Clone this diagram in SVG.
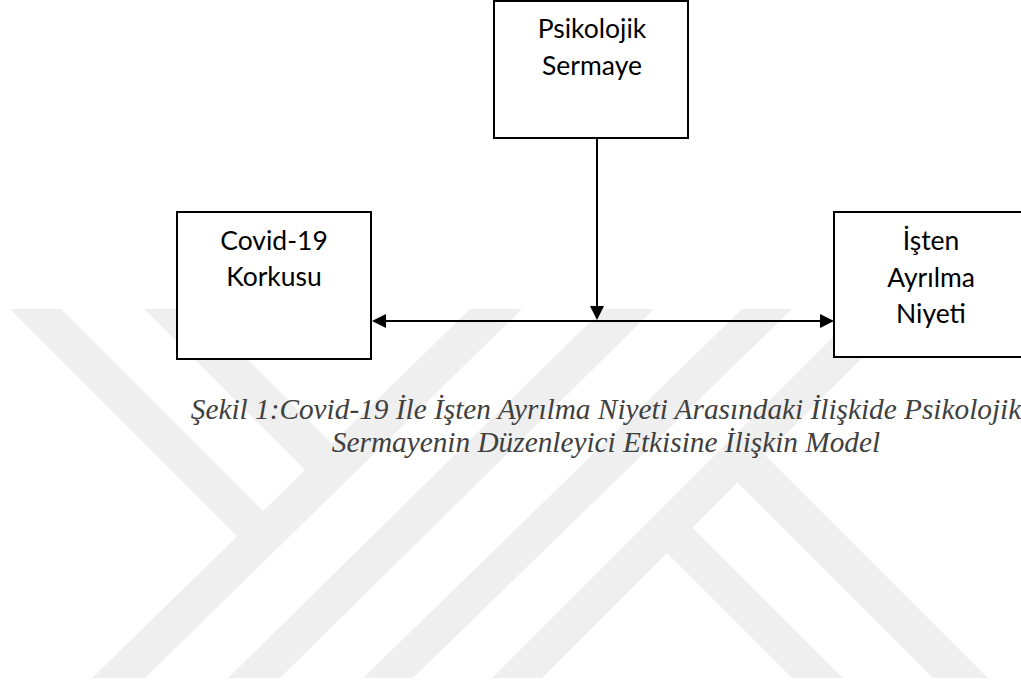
<svg xmlns="http://www.w3.org/2000/svg" width="1021" height="684" viewBox="0 0 1021 684">
  <defs>
    <style>
      .wm { fill: #efefef; stroke: none; }
      .box { fill: #ffffff; stroke: #000000; stroke-width: 2; }
      .lbl { font-family: Lato, "Open Sans", "Liberation Sans", sans-serif; font-size: 26.5px; fill: #000000; text-anchor: middle; }
      .conn { stroke: #000000; stroke-width: 2; fill: none; }
      .cap { font-family: "Liberation Serif", "Times New Roman", serif; font-style: italic; font-size: 29.3px; fill: #404040; text-anchor: middle; }
    </style>
    <marker id="arr" viewBox="0 0 14 14" refX="6" refY="7" markerWidth="14" markerHeight="14" markerUnits="userSpaceOnUse" orient="auto-start-reverse">
      <path d="M0,0 L14,7 L0,14 z" fill="#000000"/>
    </marker>
  </defs>
  <rect x="0" y="0" width="1021" height="684" fill="#ffffff"/>
  <g id="watermark">
    <polygon class="wm" points="10,309 61,309 276,524 250.5,549.5"/>
    <polygon class="wm" points="144,309 197,309 344,456 317.5,482.5"/>
    <polygon class="wm" points="470,309 522,309 145,678 92,678"/>
    <polygon class="wm" points="603,309 654,309 280,678 228,678"/>
    <polygon class="wm" points="742,309 792,309 413,678 363,678"/>
    <polygon class="wm" points="861,309 911,309 542,678 492,678"/>
    <polygon class="wm" points="654.5,540.5 680,515 843,678 792,678"/>
    <polygon class="wm" points="725,470 752.5,442.5 988,678 933,678"/>
  </g>
  <g id="connectors">
    <line class="conn" x1="597" y1="138" x2="597" y2="312" marker-end="url(#arr)"/>
    <line class="conn" x1="380" y1="321" x2="826" y2="321" marker-start="url(#arr)" marker-end="url(#arr)"/>
  </g>
  <g id="node-psikolojik">
    <rect class="box" x="494" y="1" width="194" height="137"/>
    <text class="lbl" x="592" y="38">Psikolojik</text>
    <text class="lbl" x="592" y="75">Sermaye</text>
  </g>
  <g id="node-covid">
    <rect class="box" x="177" y="212" width="194" height="147"/>
    <text class="lbl" x="274" y="250">Covid-19</text>
    <text class="lbl" x="274" y="286">Korkusu</text>
  </g>
  <g id="node-isten">
    <rect class="box" x="834" y="212" width="200" height="145"/>
    <text class="lbl" x="931" y="250">İşten</text>
    <text class="lbl" x="931" y="287">Ayrılma</text>
    <text class="lbl" x="931" y="323">Niyeti</text>
  </g>
  <g id="caption">
    <text class="cap" x="606" y="419">Şekil 1:Covid-19 İle İşten Ayrılma Niyeti Arasındaki İlişkide Psikolojik</text>
    <text class="cap" x="606" y="452">Sermayenin Düzenleyici Etkisine İlişkin Model</text>
  </g>
</svg>
